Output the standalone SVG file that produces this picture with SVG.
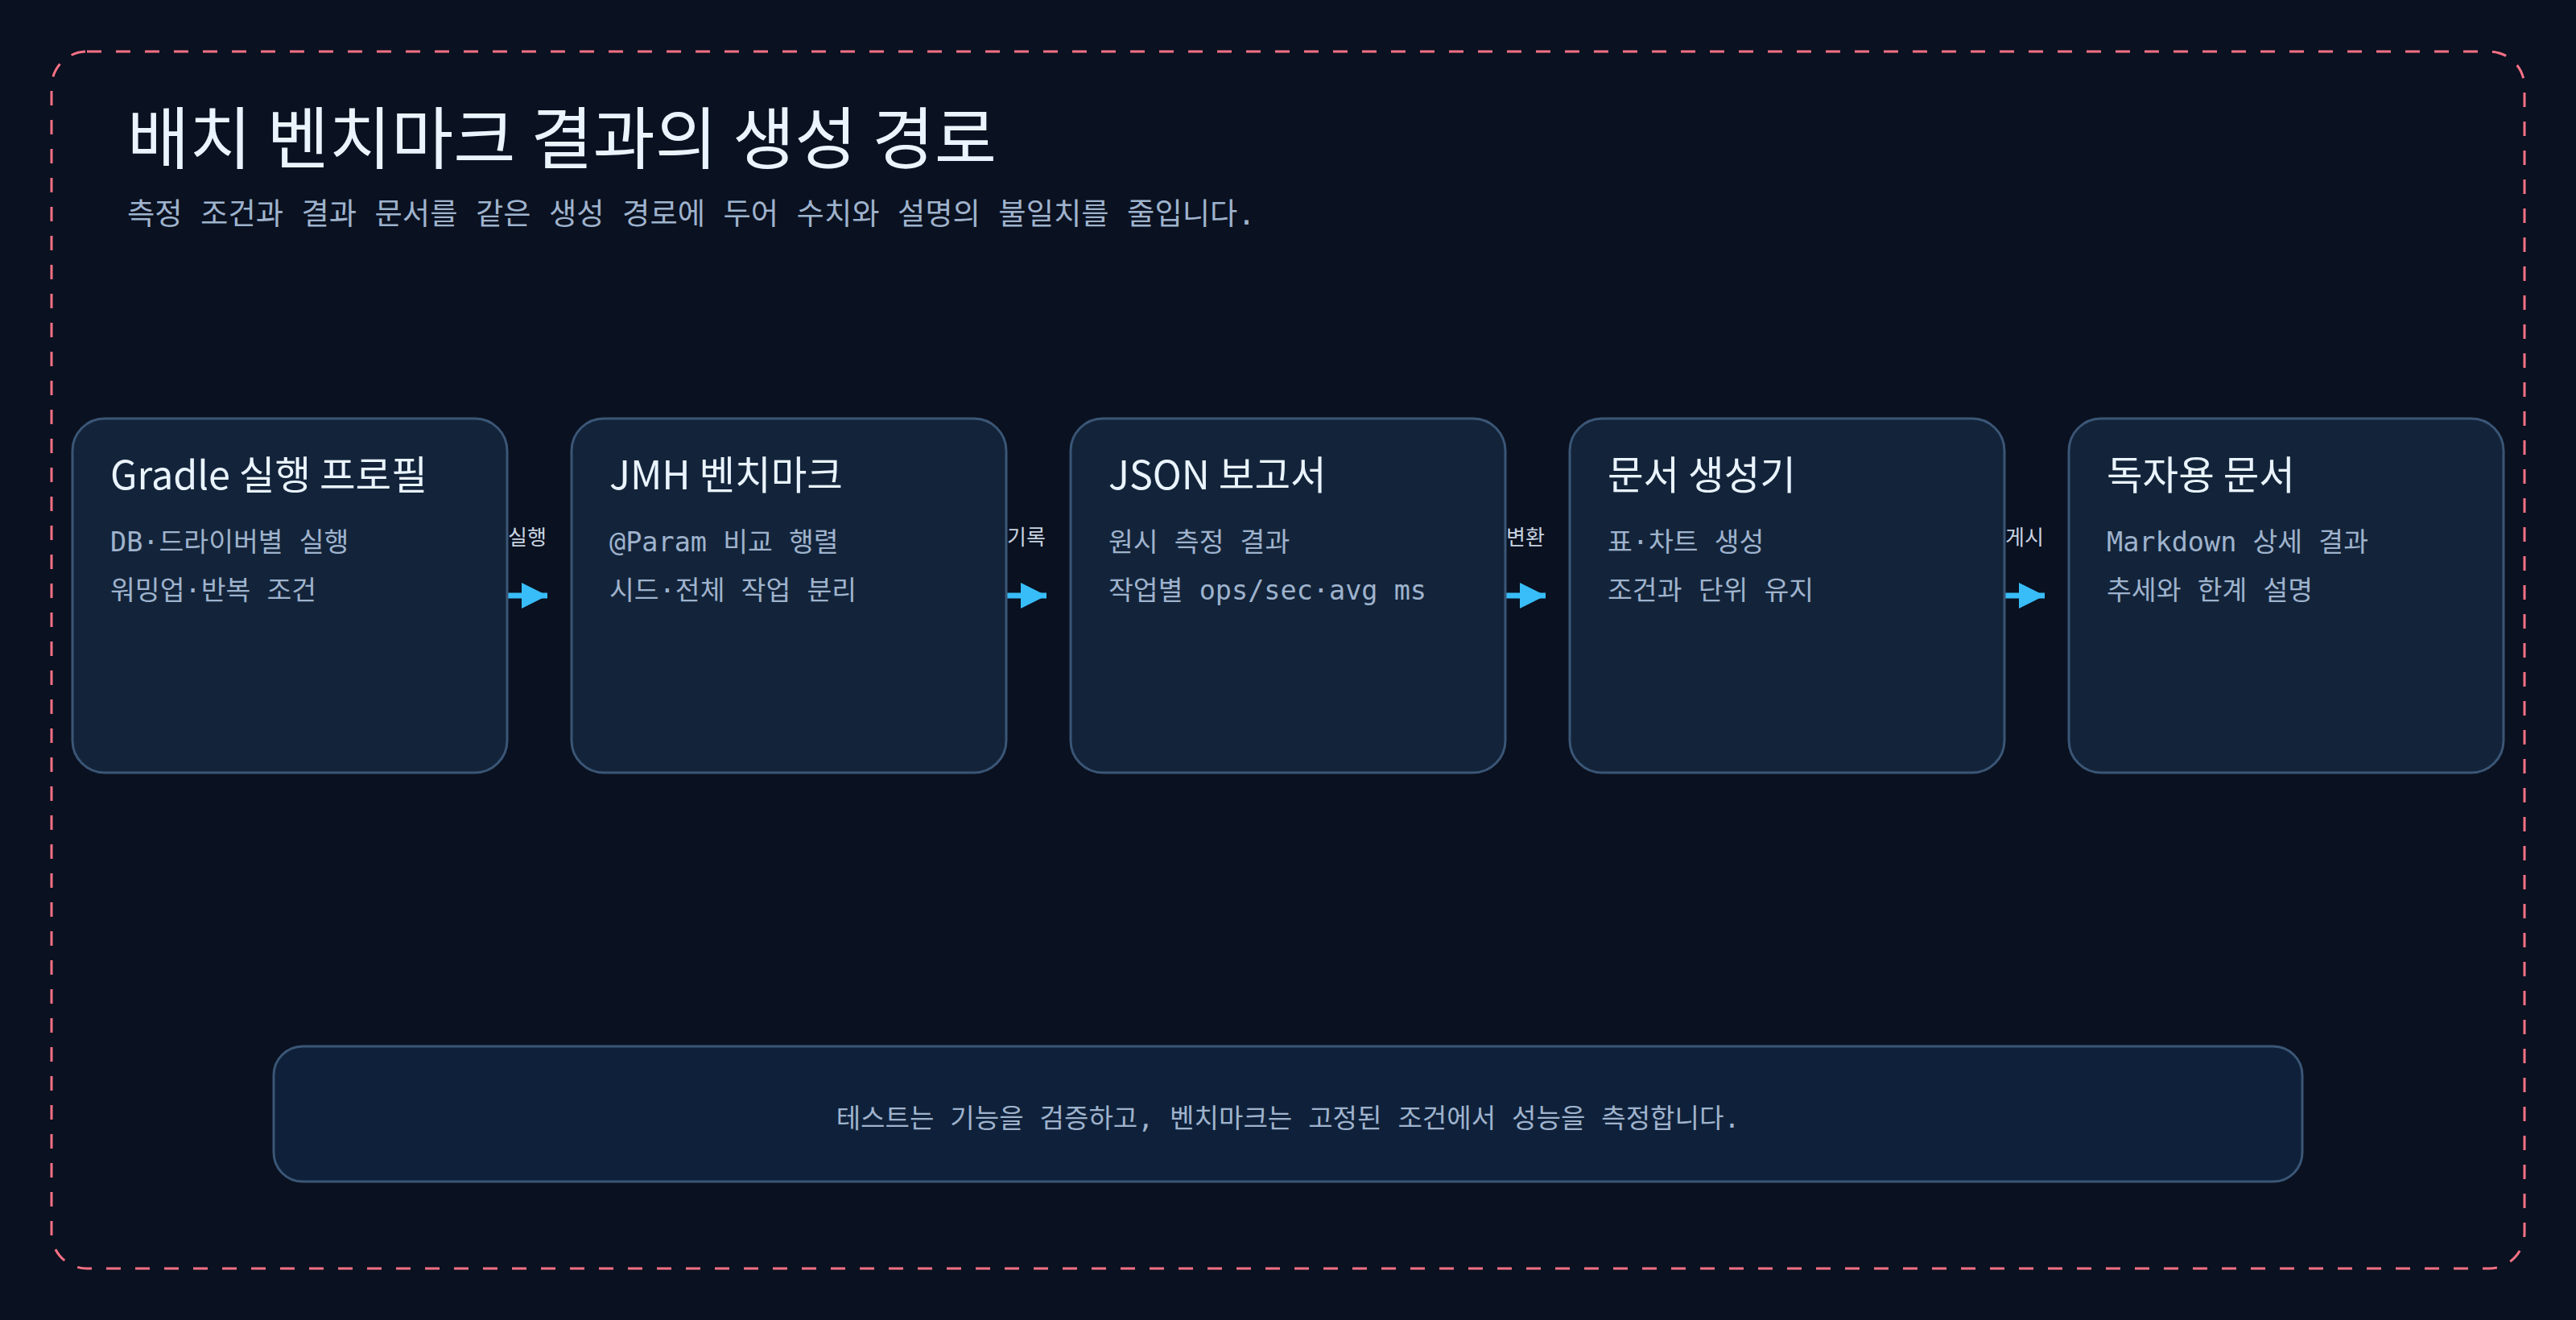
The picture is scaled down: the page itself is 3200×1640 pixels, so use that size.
<svg xmlns="http://www.w3.org/2000/svg" width="3200" height="1640" viewBox="0 0 3200 1640">
  <defs>
    <style>
      .sans { font-family: "Noto Sans CJK KR", "Noto Sans", sans-serif; }
      .mono { font-family: "DejaVu Sans Mono", "Noto Sans CJK KR", monospace; }
      .title { font-size: 84px; font-weight: 400; fill: #eaf4ff; }
      .subtitle { font-size: 37.3px; fill: #9fb3cd; }
      .node-box { fill: #13243a; stroke: #3b5676; stroke-width: 3; }
      .node-title { font-size: 48.5px; font-weight: 400; fill: #eaf4ff; }
      .node-body { font-size: 33.5px; fill: #9fb3cd; }
      .edge { stroke: #38bdf8; stroke-width: 7; fill: none; }
      .edge-label { font-size: 26px; fill: #c8d3e0; text-anchor: middle; }
      .note-box { fill: #0f213a; stroke: #3b5676; stroke-width: 3; }
      .note-text { font-size: 33.1px; fill: #9fb3cd; text-anchor: middle; }
    </style>
    <marker id="arrow" markerUnits="userSpaceOnUse" markerWidth="32" markerHeight="32" refX="32" refY="16" orient="auto">
      <path d="M0,0 L32,16 L0,32 Z" fill="#38bdf8"/>
    </marker>
  </defs>

  <rect x="0" y="0" width="3200" height="1640" fill="#0a1120"/>
  <rect x="64" y="64" width="3072" height="1512" rx="44" ry="44" fill="none" stroke="#fb7185" stroke-width="3" stroke-dasharray="18 18"/>

  <g id="header">
    <text class="sans title" x="158" y="203">배치 벤치마크 결과의 생성 경로</text>
    <text class="mono subtitle" x="158" y="279">측정 조건과 결과 문서를 같은 생성 경로에 두어 수치와 설명의 불일치를 줄입니다.</text>
  </g>

  <g id="connectors">
    <line class="edge" x1="630" y1="740" x2="680" y2="740" marker-end="url(#arrow)"/>
    <text class="sans edge-label" x="655" y="677">실행</text>
    <line class="edge" x1="1250" y1="740" x2="1300" y2="740" marker-end="url(#arrow)"/>
    <text class="sans edge-label" x="1275" y="677">기록</text>
    <line class="edge" x1="1870" y1="740" x2="1920" y2="740" marker-end="url(#arrow)"/>
    <text class="sans edge-label" x="1895" y="677">변환</text>
    <line class="edge" x1="2490" y1="740" x2="2540" y2="740" marker-end="url(#arrow)"/>
    <text class="sans edge-label" x="2515" y="677">게시</text>
  </g>

  <g id="node-gradle">
    <rect class="node-box" x="90" y="520" width="540" height="440" rx="40" ry="40"/>
    <text class="sans node-title" x="137" y="608">Gradle 실행 프로필</text>
    <text class="mono node-body" x="137" y="685">DB·드라이버별 실행</text>
    <text class="mono node-body" x="137" y="745">워밍업·반복 조건</text>
  </g>

  <g id="node-jmh">
    <rect class="node-box" x="710" y="520" width="540" height="440" rx="40" ry="40"/>
    <text class="sans node-title" x="757" y="608">JMH 벤치마크</text>
    <text class="mono node-body" x="757" y="685">@Param 비교 행렬</text>
    <text class="mono node-body" x="757" y="745">시드·전체 작업 분리</text>
  </g>

  <g id="node-json">
    <rect class="node-box" x="1330" y="520" width="540" height="440" rx="40" ry="40"/>
    <text class="sans node-title" x="1377" y="608">JSON 보고서</text>
    <text class="mono node-body" x="1377" y="685">원시 측정 결과</text>
    <text class="mono node-body" x="1377" y="745">작업별 ops/sec·avg ms</text>
  </g>

  <g id="node-docgen">
    <rect class="node-box" x="1950" y="520" width="540" height="440" rx="40" ry="40"/>
    <text class="sans node-title" x="1997" y="608">문서 생성기</text>
    <text class="mono node-body" x="1997" y="685">표·차트 생성</text>
    <text class="mono node-body" x="1997" y="745">조건과 단위 유지</text>
  </g>

  <g id="node-readerdoc">
    <rect class="node-box" x="2570" y="520" width="540" height="440" rx="40" ry="40"/>
    <text class="sans node-title" x="2617" y="608">독자용 문서</text>
    <text class="mono node-body" x="2617" y="685">Markdown 상세 결과</text>
    <text class="mono node-body" x="2617" y="745">추세와 한계 설명</text>
  </g>

  <g id="note">
    <rect class="note-box" x="340" y="1300" width="2520" height="168" rx="36" ry="36"/>
    <text class="mono note-text" x="1600" y="1401">테스트는 기능을 검증하고, 벤치마크는 고정된 조건에서 성능을 측정합니다.</text>
  </g>
</svg>
